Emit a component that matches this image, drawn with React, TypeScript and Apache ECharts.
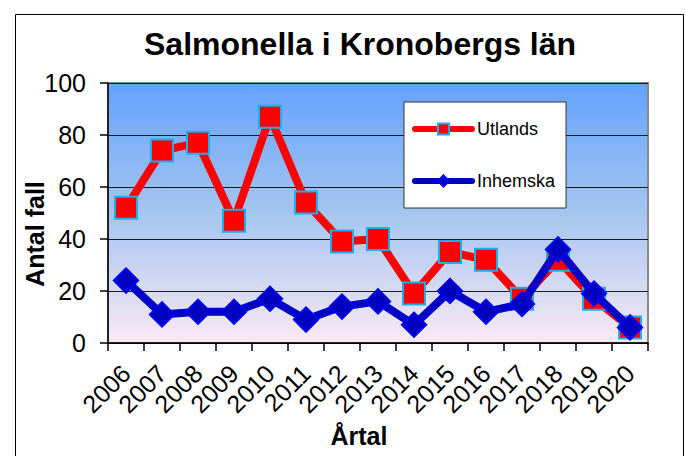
import React, { useEffect, useRef } from 'react';
import * as echarts from 'echarts';

const years = ['2006', '2007', '2008', '2009', '2010', '2011', '2012', '2013', '2014', '2015', '2016', '2017', '2018', '2019', '2020'];
const utlands = [52, 74, 77, 47, 87, 54, 39, 40, 19, 35, 32, 17, 32, 17, 6];
const inhemska = [24, 11, 12, 12, 17, 9, 14, 16, 7, 20, 12, 15, 36, 19, 6];
const yMin = 0;
const yMax = 100;
const yStep = 20;

const FONT = '"Liberation Sans", Arial, sans-serif';

export default function App() {
  const ref = useRef<HTMLDivElement>(null);
  useEffect(() => {
    if (!ref.current) return;
    const chart = echarts.init(ref.current, null, { renderer: 'svg' });
    chart.setOption({
      animation: false,
      backgroundColor: '#ffffff',
      textStyle: { fontFamily: FONT },
      title: {
        text: 'Salmonella i Kronobergs län',
        left: 144,
        top: 28,
        padding: 0,
        textStyle: { fontFamily: FONT, fontSize: 32, fontWeight: 'bold', color: '#000' },
      },
      legend: {
        orient: 'vertical',
        left: 404,
        top: 102,
        padding: [18, 11, 18, 8],
        itemGap: 34,
        itemWidth: 57,
        itemHeight: 14,
        backgroundColor: '#ffffff',
        borderColor: '#333',
        borderWidth: 1,
        borderRadius: 0,
        lineStyle: { width: 6, cap: 'round' },
        textStyle: { fontFamily: FONT, fontSize: 18, color: '#000' },
        data: ['Utlands', 'Inhemska'],
      },
      grid: {
        left: 108,
        top: 83,
        right: 38,
        bottom: 113,
        show: true,
        borderColor: '#8a8a8a',
        borderWidth: 2,
        backgroundColor: {
          type: 'linear', x: 0, y: 0, x2: 0, y2: 1,
          colorStops: [
            { offset: 0, color: '#64a2fb' },
            { offset: 0.5, color: '#a4c5f0' },
            { offset: 1, color: '#fae9f5' },
          ],
        },
      },
      xAxis: {
        type: 'category',
        data: years,
        boundaryGap: true,
        axisLine: { show: true, lineStyle: { color: '#000', width: 1.5 } },
        axisTick: { show: true, length: 8, lineStyle: { color: '#000', width: 1.5 } },
        axisLabel: { rotate: 45, margin: 26, fontFamily: FONT, fontSize: 25, color: '#000', interval: 0 },
        splitLine: { show: false },
      },
      yAxis: {
        type: 'value',
        min: yMin,
        max: yMax,
        interval: yStep,
        axisLine: { show: true, lineStyle: { color: '#000', width: 1.5 } },
        axisTick: { show: true, length: 8, lineStyle: { color: '#000', width: 1.5 } },
        axisLabel: { margin: 22, fontFamily: FONT, fontSize: 25, color: '#000' },
        splitLine: { show: true, lineStyle: { color: '#1a1a1a', width: 1 } },
      },
      graphic: [
        {
          type: 'rect',
          shape: { x: 15.5, y: 14.5, width: 668, height: 520 },
          style: { fill: 'none', stroke: '#000', lineWidth: 1 },
          silent: true,
          z: 100,
        },
        {
          type: 'text',
          x: 35,
          y: 234,
          rotation: Math.PI / 2,
          style: {
            text: 'Antal fall',
            fontFamily: FONT,
            fontSize: 25,
            fontWeight: 'bold',
            fill: '#000',
            align: 'center',
            verticalAlign: 'middle',
          },
        },
        {
          type: 'text',
          x: 359,
          y: 436,
          style: {
            text: 'Årtal',
            fontFamily: FONT,
            fontSize: 25,
            fontWeight: 'bold',
            fill: '#000',
            align: 'center',
            verticalAlign: 'middle',
          },
        },
      ],
      series: [
        {
          name: 'Utlands',
          type: 'line',
          data: utlands,
          symbol: 'rect',
          symbolSize: 22,
          lineStyle: { color: '#ff0000', width: 8 },
          itemStyle: { color: '#ff0000', borderColor: '#1ab0ee', borderWidth: 2 },
          z: 2,
        },
        {
          name: 'Inhemska',
          type: 'line',
          data: inhemska,
          symbol: 'diamond',
          symbolSize: 25,
          lineStyle: { color: '#0000c8', width: 8 },
          itemStyle: { color: '#0000c0', borderColor: '#0000ff', borderWidth: 1.5 },
          z: 3,
        },
      ],
    });
    return () => chart.dispose();
  }, []);
  return (
    <div
      ref={ref}
      style={{ position: 'fixed', left: 0, top: 0, width: 686, height: 456 }}
    />
  );
}
